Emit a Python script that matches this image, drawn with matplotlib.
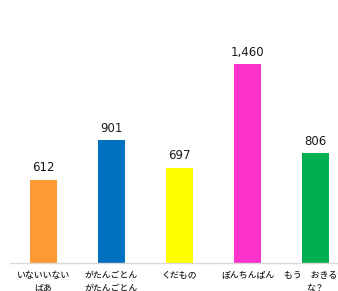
import matplotlib
matplotlib.use("Agg")
import matplotlib.pyplot as plt

plt.rcParams['font.family'] = ['Noto Sans CJK JP', 'DejaVu Sans']

categories = ["いないいない\nばあ", "がたんごとん\nがたんごとん", "くだもの", "ぽんちんぱん", "もう　おきるか\nな？"]
values = [612, 901, 697, 1460, 806]
colors = ["#FF9933", "#0070C0", "#FFFF00", "#FF33CC", "#00B050"]

W, H = 338, 291
fig = plt.figure(figsize=(W/100, H/100), dpi=100)
left = 9.5 / W
width = 340 / W
bottom = (H - 263) / H
height = (263 - 45) / H
ax = fig.add_axes([left, bottom, width, height])

x = list(range(len(categories)))
ax.bar(x, values, width=0.4, color=colors)
ax.set_xlim(-0.5, len(categories) - 0.5)
ax.set_ylim(0, 1600)

for xi, v in zip(x, values):
    ax.annotate(f"{v:,}", (xi, v), xytext=(0, 4), textcoords="offset points",
                ha="center", va="bottom", fontsize=8.5, color="#1a1a1a",
                family=['DejaVu Sans'])

ax.set_xticks(x)
ax.set_xticklabels(categories, fontsize=6.4, color="#222222", linespacing=1.55,
                   fontweight='medium')
ax.tick_params(axis='x', length=0, pad=6)
ax.set_yticks([])
for s in ['top', 'right', 'left']:
    ax.spines[s].set_visible(False)
ax.spines['bottom'].set_color('#D9D9D9')
ax.spines['bottom'].set_linewidth(1.0)

fig.savefig("out.png", dpi=100)
